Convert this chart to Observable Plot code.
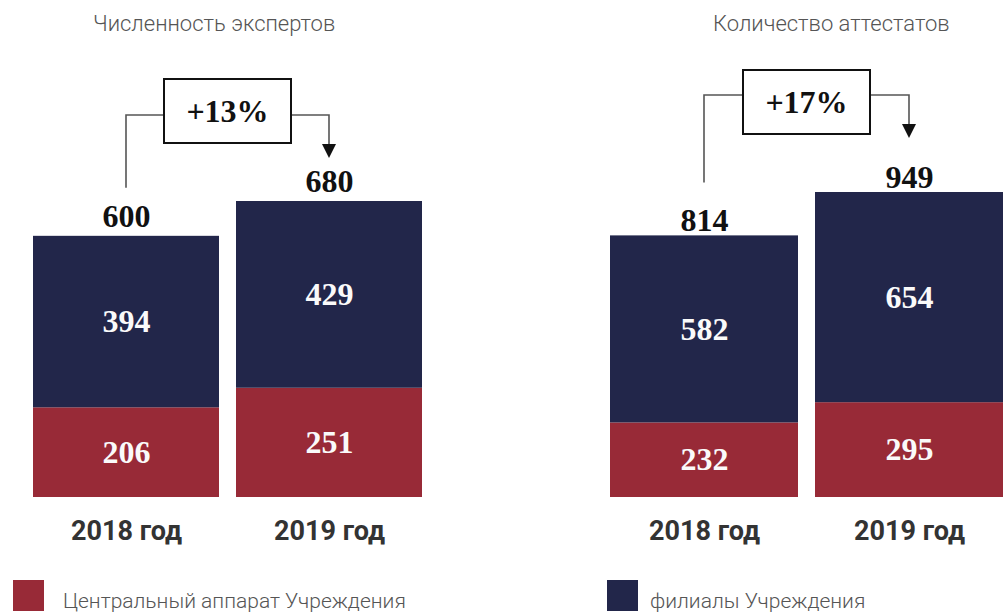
<!DOCTYPE html>
<html>
<head>
<meta charset="utf-8">
<script src="https://cdn.jsdelivr.net/npm/d3@7"></script>
<script src="https://cdn.jsdelivr.net/npm/@observablehq/plot@0.6"></script>
<style>
  body { margin: 0; background: #fff; }
  #wrap { position: relative; width: 1005px; height: 614px; overflow: hidden; background: #fff; }
  .panel { position: absolute; top: 0; }
  .title { height: 45px; box-sizing: border-box; padding-top: 13px; font-family: Roboto, sans-serif; font-weight: 300;
           font-size: 22px; line-height: 22px; color: #555; white-space: nowrap; }
  .sw { position: absolute; top: 580px; width: 31px; height: 31px; }
  .lt { position: absolute; top: 588px; font-family: Roboto, sans-serif; font-weight: 300; font-size: 21px;
        line-height: 26px; color: #555; white-space: nowrap; }
</style>
</head>
<body>
<div id="wrap"></div>
<script>
// ---- data ----
const years = ["2018 год", "2019 год"];
const seriesNames = ["Центральный аппарат Учреждения", "филиалы Учреждения"];
const panelTitles = ["Численность экспертов", "Количество аттестатов"];
const expertsCentral = [206, 251];
const expertsBranches = [394, 429];
const expertsTotals = [600, 680];
const certsCentral = [232, 295];
const certsBranches = [582, 654];
const certsTotals = [814, 949];
const growthLabels = ["+13%", "+17%"];

// ---- style ----
const colors = ["#982a37", "#22264a"];
const serif = "'Liberation Serif', 'Times New Roman', serif";
const sans = "Roboto, sans-serif";
const numSize = 32;

function bracketMark(totals, label, cfg) {
  return (index, scales) => {
    const sx = scales.x, sy = scales.y;
    const bw = typeof sx.bandwidth === "function" ? sx.bandwidth() : (sx.bandwidth || 0);
    const c0 = sx(years[0]) + bw / 2, c1 = sx(years[1]) + bw / 2;
    const yTop = sy(d3.max(totals));
    const level = yTop - cfg.level;
    const y0 = sy(totals[0]) - cfg.leftGap;
    const tip = sy(totals[1]) - cfg.arrowGap;
    const mid = (c0 + c1) / 2;
    const bwBox = 127, bhBox = 64;
    const g = d3.create("svg:g");
    g.append("path")
      .attr("d", `M${c0},${y0}V${level}H${mid}M${mid},${level}H${c1}V${tip - 12}`)
      .attr("fill", "none").attr("stroke", "#555").attr("stroke-width", 1.6);
    g.append("path")
      .attr("d", `M${c1 - 7},${tip - 14}L${c1 + 7},${tip - 14}L${c1},${tip}Z`)
      .attr("fill", "#111");
    g.append("rect")
      .attr("x", mid - bwBox / 2).attr("y", level + cfg.boxShift - bhBox / 2)
      .attr("width", bwBox).attr("height", bhBox)
      .attr("fill", "#fff").attr("stroke", "#111").attr("stroke-width", 2);
    g.append("text")
      .attr("x", mid).attr("y", level + cfg.boxShift)
      .attr("dy", "0.33em")
      .attr("text-anchor", "middle")
      .attr("font-family", serif).attr("font-weight", 700).attr("font-size", numSize)
      .attr("fill", "#111")
      .text(label);
    return g.node();
  };
}

function makePanel({central, branches, totals, label, left, width, marginLeft, marginRight, marginTop, titleLeft, title, totalDy, cfg}) {
  const rows = [];
  years.forEach((yr, i) => {
    rows.push({year: yr, series: seriesNames[0], value: central[i], mid: central[i] / 2});
    rows.push({year: yr, series: seriesNames[1], value: branches[i], mid: central[i] + branches[i] / 2});
  });
  const totalRows = years.map((yr, i) => ({year: yr, total: totals[i]}));

  const chart = Plot.plot({
    width,
    height: 520,
    marginLeft, marginRight, marginTop, marginBottom: 68,
    style: {background: "transparent", overflow: "visible"},
    x: {domain: years, paddingInner: 0.083, paddingOuter: 0, axis: null},
    y: {domain: [0, d3.max(totals)], axis: null},
    color: {domain: seriesNames, range: colors},
    marks: [
      Plot.barY(rows, {x: "year", y: "value", fill: "series", z: "series", order: seriesNames}),
      Plot.text(rows, {x: "year", y: "mid", text: d => String(d.value), fill: "#fafafa",
        fontFamily: serif, fontWeight: 700, fontSize: numSize}),
      Plot.text(totalRows, {x: "year", y: "total", text: d => String(d.total), dy: totalDy, fill: "#111",
        fontFamily: serif, fontWeight: 700, fontSize: numSize}),
      Plot.text(years, {x: d => d, text: d => d, frameAnchor: "bottom", dy: 42, fill: "#333",
        fontFamily: sans, fontWeight: 700, fontSize: 27}),
      bracketMark(totals, label, cfg)
    ]
  });

  const panel = document.createElement("div");
  panel.className = "panel";
  panel.style.left = left + "px";
  panel.style.width = width + "px";
  const t = document.createElement("div");
  t.className = "title";
  t.style.paddingLeft = titleLeft + "px";
  t.textContent = title;
  panel.appendChild(t);
  panel.appendChild(chart);
  return panel;
}

const wrap = document.getElementById("wrap");
wrap.appendChild(makePanel({
  central: expertsCentral, branches: expertsBranches, totals: expertsTotals, label: growthLabels[0],
  left: 0, width: 500, marginLeft: 32, marginRight: 77, marginTop: 156,
  titleLeft: 93, title: panelTitles[0], totalDy: -20,
  cfg: {level: 86, leftGap: 48, arrowGap: 43, boxShift: -4}
}));
wrap.appendChild(makePanel({
  central: certsCentral, branches: certsBranches, totals: certsTotals, label: growthLabels[1],
  left: 500, width: 505, marginLeft: 110, marginRight: 2, marginTop: 147,
  titleLeft: 213, title: panelTitles[1], totalDy: -15,
  cfg: {level: 97, leftGap: 53, arrowGap: 54, boxShift: 7}
}));

// legend
[[13, 63, 0], [607, 650, 1]].forEach(([sxp, tx, i]) => {
  const sw = document.createElement("div");
  sw.className = "sw";
  sw.style.left = sxp + "px";
  sw.style.background = colors[i];
  wrap.appendChild(sw);
  const lt = document.createElement("div");
  lt.className = "lt";
  lt.style.left = tx + "px";
  lt.textContent = seriesNames[i];
  wrap.appendChild(lt);
});
</script>
</body>
</html>
